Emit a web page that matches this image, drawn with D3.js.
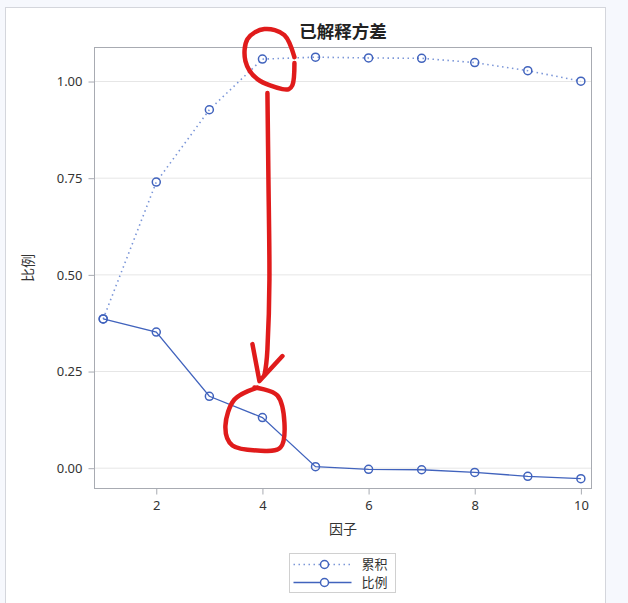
<!DOCTYPE html>
<html>
<head>
<meta charset="utf-8">
<script src="https://cdn.jsdelivr.net/npm/d3@7"></script>
<style>
  body { margin: 0; background: #f6f8fd; }
  svg { display: block; font-family: "Noto Sans CJK SC", "Noto Sans", sans-serif; }
</style>
</head>
<body>
<div id="chart"></div>
<script>
// data
var factors = [1, 2, 3, 4, 5, 6, 7, 8, 9, 10];
var cumulative = [0.386, 0.740, 0.927, 1.058, 1.063, 1.061, 1.060, 1.049, 1.028, 1.001];
var proportion = [0.386, 0.352, 0.186, 0.131, 0.004, -0.003, -0.004, -0.011, -0.021, -0.027];
var xTicks = [2, 4, 6, 8, 10];
var yTicks = [0, 0.25, 0.5, 0.75, 1.0];
var seriesNames = ["累积", "比例"];

var W = 628, H = 603;
var plot = {left: 94.5, right: 591.5, top: 47.5, bottom: 488.5};
var blue = "#4163bd", lightBlue = "#7b96d8";

var svg = d3.select("#chart").append("svg")
    .attr("width", W).attr("height", H);

// white panel
svg.append("rect")
    .attr("x", 5.5).attr("y", 7.5)
    .attr("width", 600).attr("height", 600)
    .attr("fill", "#fff").attr("stroke", "#d4d6dc");

var x = d3.scaleLinear().domain([0.836, 10.2]).range([plot.left, plot.right]);
var y = d3.scaleLinear().domain([-0.0525, 1.088]).range([plot.bottom, plot.top]);

// gridlines
svg.append("g").selectAll("line")
  .data(yTicks).enter().append("line")
    .attr("x1", plot.left).attr("x2", plot.right)
    .attr("y1", function(d){ return y(d) }).attr("y2", function(d){ return y(d) })
    .attr("stroke", "#e6e6e6");

// plot frame
svg.append("rect")
    .attr("x", plot.left).attr("y", plot.top)
    .attr("width", plot.right - plot.left).attr("height", plot.bottom - plot.top)
    .attr("fill", "none").attr("stroke", "#a8abb2");

// axes
var xAxis = svg.append("g")
    .attr("transform", "translate(0," + plot.bottom + ")")
    .call(d3.axisBottom(x).tickValues(xTicks).tickSize(6).tickPadding(6));
var yAxis = svg.append("g")
    .attr("transform", "translate(" + plot.left + ",0)")
    .call(d3.axisLeft(y).tickValues(yTicks).tickFormat(d3.format(".2f")).tickSize(6).tickPadding(6));
[xAxis, yAxis].forEach(function(a) {
  a.select(".domain").remove();
  a.selectAll(".tick line").attr("stroke", "#a8abb2");
  a.selectAll("text").attr("fill", "#333").style("font-size", "13px")
    .style("font-family", "'Noto Sans', sans-serif");
});

// titles
svg.append("text")
    .attr("x", 343).attr("y", 38)
    .attr("text-anchor", "middle")
    .style("font-size", "17.5px").style("font-weight", "bold").attr("fill", "#222")
    .text("已解释方差");
svg.append("text")
    .attr("x", (plot.left + plot.right) / 2).attr("y", 534)
    .attr("text-anchor", "middle")
    .style("font-size", "14px").attr("fill", "#333")
    .text("因子");
svg.append("text")
    .attr("transform", "translate(33," + ((plot.top + plot.bottom) / 2) + ") rotate(-90)")
    .attr("text-anchor", "middle")
    .style("font-size", "14px").attr("fill", "#333")
    .text("比例");

// lines
var line = d3.line()
    .x(function(d, i){ return x(factors[i]) })
    .y(function(d){ return y(d) });

svg.append("path").datum(cumulative)
    .attr("d", line)
    .attr("fill", "none").attr("stroke", lightBlue)
    .attr("stroke-width", 1.6).attr("stroke-dasharray", "1.5,3.5");
svg.append("path").datum(proportion)
    .attr("d", line)
    .attr("fill", "none").attr("stroke", blue).attr("stroke-width", 1.3);

[cumulative, proportion].forEach(function(s) {
  svg.append("g").selectAll("circle")
    .data(s).enter().append("circle")
      .attr("cx", function(d, i){ return x(factors[i]) })
      .attr("cy", function(d){ return y(d) })
      .attr("r", 4)
      .attr("fill", "none").attr("stroke", blue).attr("stroke-width", 1.5);
});

// legend
var lg = svg.append("g").attr("transform", "translate(289.5,553.5)");
lg.append("rect").attr("width", 106).attr("height", 39)
    .attr("fill", "#fff").attr("stroke", "#d0d0d0");
seriesNames.forEach(function(name, i) {
  var ry = 11 + i * 18;
  lg.append("line").attr("x1", 4).attr("x2", 62).attr("y1", ry).attr("y2", ry)
    .attr("stroke", i == 0 ? lightBlue : blue)
    .attr("stroke-width", i == 0 ? 1.6 : 1.3)
    .attr("stroke-dasharray", i == 0 ? "1.5,3.5" : null);
  lg.append("circle").attr("cx", 35).attr("cy", ry).attr("r", 4)
    .attr("fill", "#fff").attr("stroke", blue).attr("stroke-width", 1.5);
  lg.append("text").attr("x", 72).attr("y", ry + 4.5)
    .style("font-size", "13px").attr("fill", "#333").text(name);
});

// red hand-drawn annotations, placed relative to factor 4
var cx4 = x(factors[3]), cyTop = y(cumulative[3]), cyBot = y(proportion[3]);
var red = svg.append("g").attr("fill", "none").attr("stroke", "#e01b1b")
    .attr("stroke-width", 4.5).attr("stroke-linecap", "round").attr("stroke-linejoin", "round");
var hand = d3.line().curve(d3.curveCardinal);
red.append("path").attr("d", hand([
  [cx4 + 32, cyTop - 2], [cx4 + 22, cyTop - 24], [cx4 + 2, cyTop - 30], [cx4 - 15, cyTop - 20],
  [cx4 - 17, cyTop + 2], [cx4 - 5, cyTop + 20], [cx4 + 20, cyTop + 30], [cx4 + 30, cyTop + 26], [cx4 + 32, cyTop + 4]
]));
red.append("path").attr("d", hand([
  [cx4 + 5, cyTop + 34], [cx4 + 6, cyTop + 120], [cx4 + 7, cyTop + 220], [cx4 + 5, cyTop + 290], [cx4 + 2, cyTop + 316]
]));
red.append("path").attr("d", d3.line()([
  [cx4 - 10, cyTop + 285], [cx4 - 3, cyTop + 322], [cx4 + 20, cyTop + 297]
]));
red.append("path").attr("d", hand([
  [cx4 - 5, cyBot - 30], [cx4 - 28, cyBot - 18], [cx4 - 37, cyBot + 8], [cx4 - 30, cyBot + 28],
  [cx4 - 5, cyBot + 33], [cx4 + 18, cyBot + 30], [cx4 + 22, cyBot + 5], [cx4 + 15, cyBot - 22], [cx4 - 8, cyBot - 30]
]));
</script>
</body>
</html>
